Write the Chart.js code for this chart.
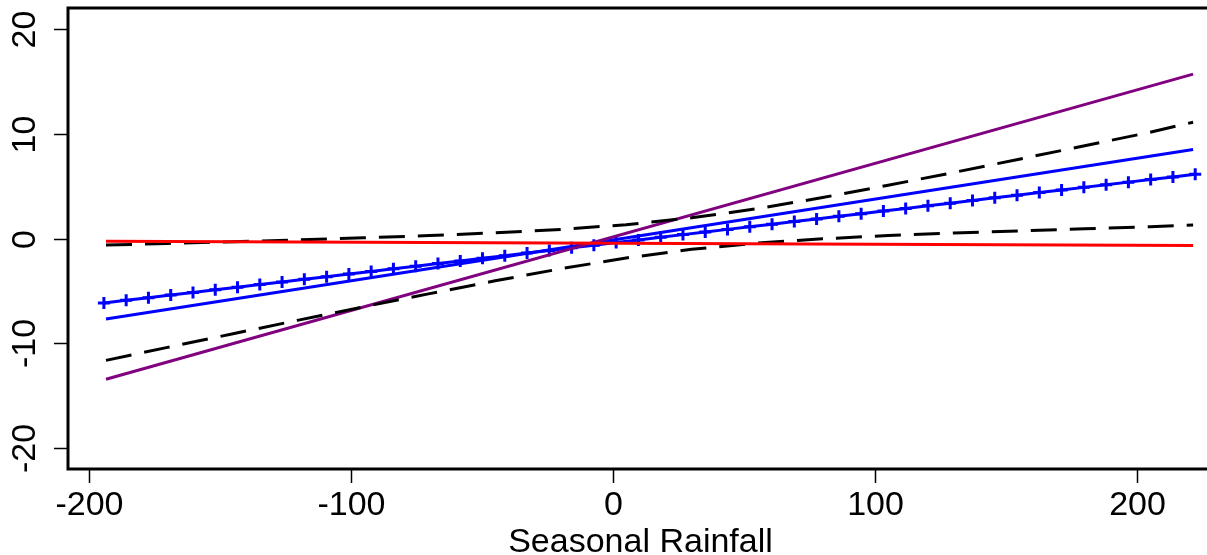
<!DOCTYPE html>
<html>
<head>
<meta charset="utf-8">
<script src="https://cdn.jsdelivr.net/npm/chart.js@4.4.1/dist/chart.umd.min.js"></script>
<style>
  html, body { margin: 0; padding: 0; background: #fff; }
  #chart-wrap { width: 1207px; height: 555px; }
</style>
</head>
<body>
<div id="chart-wrap"><canvas id="chart-rain" width="1207" height="555"></canvas></div>
<script>
// axis ticks
const xTicks = [-200, -100, 0, 100, 200];
const yTicks = [-20, -10, 0, 10, 20];
const xTitle = 'Seasonal Rainfall';

// straight fitted lines (start / end)
const lineX = [-193.5, 221.4];
const redY = [-0.26, -0.67];
const blueY = [-7.69, 8.49];
const purpleY = [-13.43, 15.69];

// dashed confidence band
const bandX = [-193.5, -170, -145, -120, -95, -70, -45, -20, 5, 30, 55, 80, 105, 130, 155, 180, 205, 221.4];
const upperY = [-0.63, -0.47, -0.31, -0.13, 0.07, 0.28, 0.54, 0.87, 1.32, 1.97, 2.84, 3.91, 5.08, 6.30, 7.57, 8.85, 10.14, 11.1];
const lowerY = [-11.63, -10.39, -9.09, -7.79, -6.51, -5.26, -4.04, -2.89, -1.86, -1.03, -0.44, -0.03, 0.28, 0.52, 0.73, 0.93, 1.12, 1.3];

// blue line with + markers
const plusX = [-194.3, -185.8, -177.3, -168.8, -160.3, -151.8, -143.3, -134.8, -126.3, -117.8,
  -109.3, -100.8, -92.3, -83.8, -75.3, -66.8, -58.3, -49.8, -41.3, -32.8,
  -24.3, -15.8, -7.3, 1.2, 9.7, 18.2, 26.7, 35.2, 43.7, 52.2,
  60.7, 69.2, 77.7, 86.2, 94.7, 103.2, 111.7, 120.2, 128.7, 137.2,
  145.7, 154.2, 162.7, 171.2, 179.7, 188.2, 196.7, 205.2, 213.7, 222.2];
const plusY = [-6.15, -5.90, -5.65, -5.40, -5.15, -4.90, -4.65, -4.40, -4.15, -3.89,
  -3.64, -3.39, -3.14, -2.89, -2.64, -2.39, -2.14, -1.89, -1.64, -1.39,
  -1.14, -0.89, -0.64, -0.39, -0.14, 0.11, 0.37, 0.62, 0.87, 1.12,
  1.37, 1.62, 1.87, 2.12, 2.37, 2.62, 2.87, 3.12, 3.37, 3.62,
  3.88, 4.13, 4.38, 4.63, 4.88, 5.13, 5.38, 5.63, 5.88, 6.13];

const FONT = '34px "Liberation Sans", Arial, sans-serif';

function pts(xs, ys) {
    return xs.map((x, i) => ({ x: x, y: ys[i] }));
}

function lineSet(data, color, dash) {
    return {
        data: data, showLine: true, borderColor: color, borderWidth: 3,
        borderDash: dash || [], pointRadius: 0, fill: false, tension: 0
    };
}

// R style frame, ticks and labels drawn from the chart scales
const rAxes = {
    id: 'rAxes',
    afterDraw(chart) {
        const { ctx, chartArea: a, scales: { x, y } } = chart;
        ctx.save();
        ctx.strokeStyle = '#000';
        ctx.fillStyle = '#000';

        // box (right side runs off the canvas)
        ctx.lineWidth = 3;
        ctx.beginPath();
        ctx.moveTo(chart.width + 2, a.top);
        ctx.lineTo(a.left, a.top);
        ctx.lineTo(a.left, a.bottom);
        ctx.lineTo(chart.width + 2, a.bottom);
        ctx.stroke();

        ctx.lineWidth = 1.5;
        ctx.font = FONT;

        // x axis
        ctx.textAlign = 'center';
        ctx.textBaseline = 'alphabetic';
        xTicks.forEach(v => {
            const px = Math.round(x.getPixelForValue(v)) + 0.5;
            ctx.beginPath();
            ctx.moveTo(px, a.bottom);
            ctx.lineTo(px, a.bottom + 14);
            ctx.stroke();
            ctx.fillText(String(v), px, 515);
        });
        ctx.fillText(xTitle, (a.left + a.right + 6) / 2, 552);

        // y axis, labels turned like R's las=0
        yTicks.forEach(v => {
            const py = Math.round(y.getPixelForValue(v)) + 0.5;
            ctx.beginPath();
            ctx.moveTo(a.left, py);
            ctx.lineTo(a.left - 14, py);
            ctx.stroke();
            ctx.save();
            ctx.translate(35, py);
            ctx.rotate(-Math.PI / 2);
            ctx.fillText(String(v), 0, 0);
            ctx.restore();
        });
        ctx.restore();
    }
};

const ctx = document.getElementById('chart-rain').getContext('2d');
new Chart(ctx, {
    type: 'scatter',
    data: {
        datasets: [
            lineSet(pts(lineX, redY), '#ff0000'),
            lineSet(pts(bandX, upperY), '#000000', [26, 13]),
            lineSet(pts(bandX, lowerY), '#000000', [26, 13]),
            lineSet(pts(lineX, purpleY), '#800080'),
            Object.assign(lineSet(pts(plusX, plusY), '#0000ff'), {
                pointStyle: 'cross', pointRadius: 6, pointBorderWidth: 3,
                pointBorderColor: '#0000ff', pointBackgroundColor: '#0000ff'
            }),
            lineSet(pts(lineX, blueY), '#0000ff')
        ]
    },
    options: {
        responsive: false,
        animation: false,
        devicePixelRatio: 1,
        layout: { autoPadding: false, padding: { left: 68, top: 8, right: 0, bottom: 86 } },
        plugins: { legend: { display: false }, tooltip: { enabled: false } },
        scales: {
            x: { type: 'linear', display: false, min: -208, max: 226.7 },
            y: { type: 'linear', display: false, min: -22, max: 22 }
        }
    },
    plugins: [rAxes]
});
</script>
</body>
</html>
